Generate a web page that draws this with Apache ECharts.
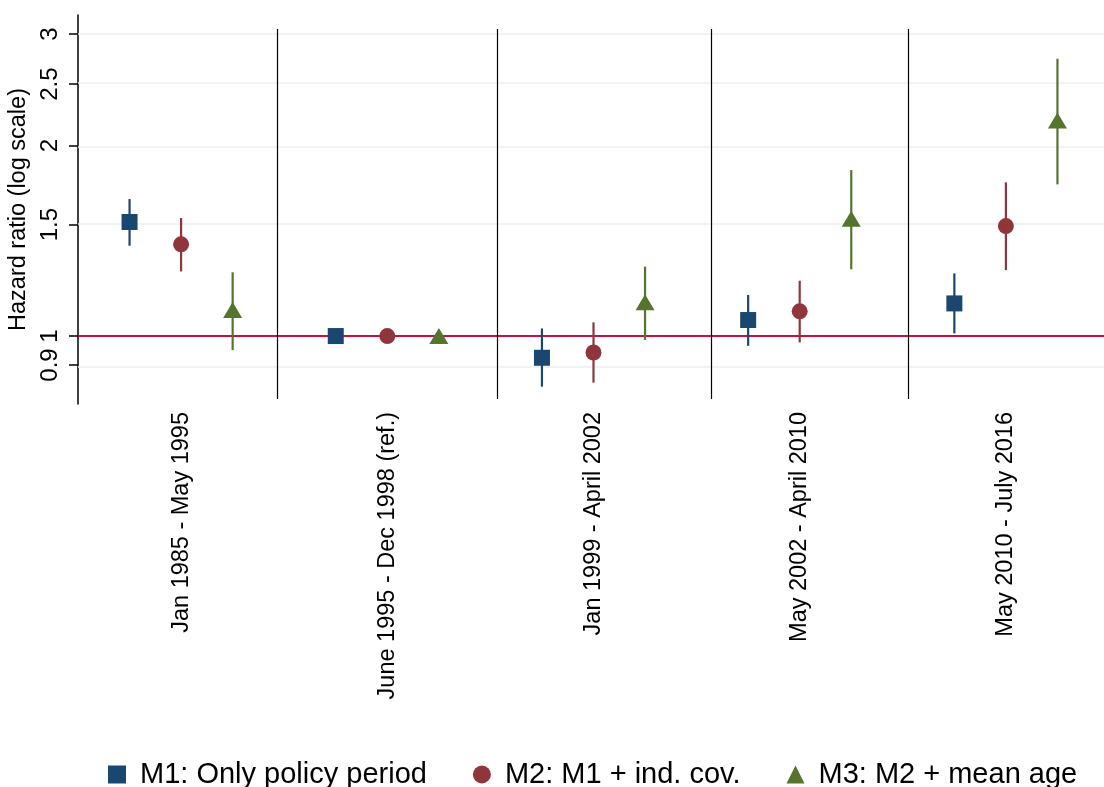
<!DOCTYPE html>
<html>
<head>
<meta charset="utf-8">
<script src="https://cdn.jsdelivr.net/npm/echarts@6/dist/echarts.min.js"></script>
<style>
html,body{margin:0;padding:0;background:#fff;}
#chart{width:1104px;height:787px;}
</style>
</head>
<body>
<div id="chart"></div>
<script>
// ---------- data ----------
const periods = ['Jan 1985 - May 1995','June 1995 - Dec 1998 (ref.)','Jan 1999 - April 2002','May 2002 - April 2010','May 2010 - July 2016'];
const seriesNames = ['M1: Only policy period','M2: M1 + ind. cov.','M3: M2 + mean age'];
const m1HR = [1.514, 1, 0.924, 1.060, 1.126];
const m1Lo = [1.389, null, 0.832, 0.965, 1.010];
const m1Hi = [1.646, null, 1.028, 1.161, 1.256];
const m2HR = [1.396, 1, 0.942, 1.094, 1.492];
const m2Lo = [1.265, null, 0.844, 0.977, 1.271];
const m2Hi = [1.536, null, 1.051, 1.223, 1.749];
const m3HR = [1.099, 1, 1.131, 1.532, 2.19];
const m3Lo = [0.950, null, 0.986, 1.275, 1.736];
const m3Hi = [1.261, null, 1.287, 1.829, 2.742];
const yTicks = [0.9, 1, 1.5, 2, 2.5, 3];
const refValue = 1;
const separatorsX = [3.87, 8.14, 12.28, 16.1];

// ---------- styling ----------
const colors = ['#1a476f', '#90353b', '#55752f'];
const symbols = ['rect', 'circle', 'triangle'];
const symbolSizes = [16, 16, [19, 16]];
const FONT = '"Liberation Sans", Arial, Helvetica, sans-serif';
const L = Math.log;

const models = [
  {hr: m1HR, lo: m1Lo, hi: m1Hi},
  {hr: m2HR, lo: m2Lo, hi: m2Hi},
  {hr: m3HR, lo: m3Lo, hi: m3Hi}
];
const xOf = (g, s) => 4 * g + s + 1;

const series = [];
series.push({
  type: 'line', name: '_grid', data: [], silent: true, z: 1,
  symbol: 'none', lineStyle: {opacity: 0},
  markLine: {
    z: 1, silent: true, symbol: ['none', 'none'], label: {show: false}, animation: false,
    emphasis: {disabled: true},
    data: yTicks.map(t => ({yAxis: L(t), lineStyle: {color: '#e9f0f3', width: 1.6, type: 'solid'}}))
  }
});
series.push({
  type: 'line', name: '_ref', data: [], silent: true, z: 2,
  symbol: 'none', lineStyle: {opacity: 0},
  markLine: {
    z: 2, silent: true, symbol: ['none', 'none'], label: {show: false}, animation: false,
    emphasis: {disabled: true},
    data: [
      {yAxis: L(refValue), lineStyle: {color: '#c8103c', width: 2.2, type: 'solid'}}
    ].concat(separatorsX.map(x => [
      {coord: [x, L(3.055)], lineStyle: {color: '#000', width: 1.2, type: 'solid'}},
      {coord: [x, L(0.795)]}
    ]))
  }
});

models.forEach((m, s) => {
  const bars = [];
  m.hr.forEach((v, g) => {
    if (m.lo[g] != null) bars.push([xOf(g, s), L(m.lo[g]), L(m.hi[g])]);
  });
  series.push({
    type: 'custom', name: seriesNames[s] + '_ci', z: 3, silent: true,
    data: bars,
    encode: {x: 0, y: [1, 2]},
    renderItem: function (params, api) {
      const p1 = api.coord([api.value(0), api.value(1)]);
      const p2 = api.coord([api.value(0), api.value(2)]);
      return {type: 'line', shape: {x1: p1[0], y1: p1[1], x2: p2[0], y2: p2[1]},
        style: {stroke: colors[s], lineWidth: 2.2}};
    }
  });
  series.push({
    type: 'scatter', name: seriesNames[s], z: 4,
    symbol: symbols[s], symbolSize: symbolSizes[s],
    itemStyle: {color: colors[s], opacity: 1},
    data: m.hr.map((v, g) => [xOf(g, s), L(v)])
  });
});

const chart = echarts.init(document.getElementById('chart'), null, {renderer: 'canvas'});
chart.setOption({
  animation: false,
  backgroundColor: '#fff',
  grid: {left: 78, top: 15, width: 1031, height: 389, containLabel: false, outerBoundsMode: 'none'},
  xAxis: {
    type: 'value', min: 0, max: 20,
    axisLine: {show: true, lineStyle: {color: '#000', width: 1.5}},
    axisTick: {show: false},
    splitLine: {show: false},
    axisLabel: {
      customValues: periods.map((p, g) => xOf(g, 1)),
      formatter: v => periods[Math.round((v - 2) / 4)],
      rotate: 90, margin: 8, color: '#000', fontFamily: FONT, fontSize: 23.5
    }
  },
  yAxis: {
    type: 'value', min: L(0.781), max: L(3.215),
    name: 'Hazard ratio (log scale)', nameLocation: 'middle', nameGap: 40, nameRotate: 90,
    nameTextStyle: {color: '#000', fontFamily: FONT, fontSize: 23.5},
    axisLine: {show: true, lineStyle: {color: '#000', width: 1.5}},
    axisTick: {show: true, customValues: yTicks.map(L), length: 9, lineStyle: {color: '#000', width: 1.5}},
    splitLine: {show: false},
    axisLabel: {
      customValues: yTicks.map(L),
      formatter: v => String(+Math.exp(v).toFixed(2)),
      rotate: 90, margin: 16, color: '#000', fontFamily: FONT, fontSize: 24
    }
  },
  legend: {
    left: 103, top: 755,
    itemWidth: 18, itemHeight: 18, itemGap: 46,
    textStyle: {color: '#000', fontFamily: FONT, fontSize: 29, padding: [0, 0, 0, 9]},
    data: seriesNames.map((n, i) => ({name: n, icon: symbols[i]}))
  },
  series: series
});
</script>
</body>
</html>
